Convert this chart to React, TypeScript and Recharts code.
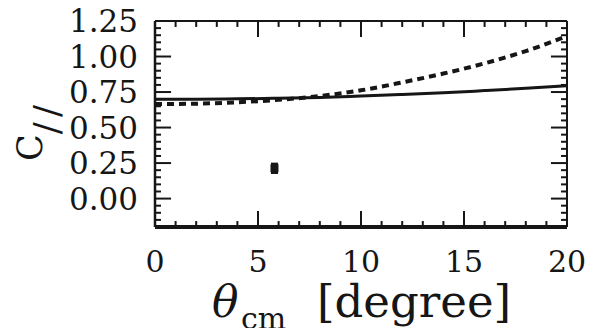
import React from 'react';
import { ComposedChart, Line, Scatter, XAxis, YAxis, ErrorBar, ReferenceLine } from 'recharts';

// Angle grid (degrees)
const thetaCm = [0, 2, 4, 6, 8, 10, 12, 14, 16, 18, 20];
// Solid curve
const solidC = [0.70, 0.70, 0.702, 0.706, 0.712, 0.722, 0.733, 0.745, 0.76, 0.776, 0.795];
// Dashed curve
const dashedC = [0.665, 0.668, 0.678, 0.695, 0.722, 0.762, 0.818, 0.88, 0.952, 1.038, 1.145];
// Measured point
const measTheta = [5.8];
const measC = [0.213];
const measErr = [0.04];

const xMajor = [0, 5, 10, 15, 20];
const xMinor = [1, 2, 3, 4, 6, 7, 8, 9, 11, 12, 13, 14, 16, 17, 18, 19];
const yMajor = [0, 0.25, 0.5, 0.75, 1.0, 1.25];
const yMinor = [-0.15, -0.1, -0.05, 0.05, 0.1, 0.15, 0.2, 0.3, 0.35, 0.4, 0.45, 0.55, 0.6, 0.65, 0.7, 0.8, 0.85, 0.9, 0.95, 1.05, 1.1, 1.15, 1.2];
const xDomain: [number, number] = [0, 20];
const yDomain: [number, number] = [-0.2, 1.25];

const curveData = thetaCm.map((t, i) => ({ t, solid: solidC[i], dashed: dashedC[i] }));
const pointData = measTheta.map((t, i) => ({ t, c: measC[i], err: measErr[i] }));

const INK = '#161616';
const FONT = '"DejaVu Serif", serif';
// inward tick lengths, in data units of each axis (minor ≈6 px, major ≈16 px)
const MINOR_X_LEN = 0.29;
const MINOR_Y_LEN = 0.042;
const MAJOR_X_LEN = 0.78;
const MAJOR_Y_LEN = 0.113;

const xTickList = [
  ...xMinor.map((v) => ({ v, len: MINOR_Y_LEN })),
  ...xMajor.slice(1, -1).map((v) => ({ v, len: MAJOR_Y_LEN })),
];
const yTickList = [
  ...yMinor.map((v) => ({ v, len: MINOR_X_LEN })),
  ...yMajor.slice(0, -1).map((v) => ({ v, len: MAJOR_X_LEN })),
];

const BottomLabel = (p: any) => (
  <text x={p.x} y={p.y + 45} textAnchor="middle" fontFamily={FONT} fontSize={30} fill={INK}>
    {p.payload.value}
  </text>
);
const LeftLabel = (p: any) => (
  <text x={p.x - 17} y={p.y + 11} textAnchor="end" fontFamily={FONT} fontSize={31} fill={INK}>
    {Number(p.payload.value).toFixed(2)}
  </text>
);
const blank = () => '';

const XTitle = () => (
  <g fontFamily={FONT} fill={INK}>
    <text x={212} y={317} fontSize={44} fontStyle="italic">θ</text>
    <text x={241} y={329} fontSize={30}>cm</text>
    <text x={317} y={317} fontSize={45}>[degree]</text>
  </g>
);
const YTitle = () => (
  <text x={42} y={161} transform="rotate(-90, 42, 161)" fontFamily={FONT} fill={INK} fontSize={35}>
    C
    <tspan dy={17} fontSize={36} letterSpacing={5}>//</tspan>
  </text>
);

const Square = (p: any) => (
  <rect x={p.cx - 4} y={p.cy - 4} width={8} height={8} fill={INK} />
);

const tickStyle = { stroke: INK, strokeWidth: 2, ifOverflow: 'visible' as const, xAxisId: 'b', yAxisId: 'l' };

export default function App() {
  return (
    <div style={{ position: 'absolute', left: 0, top: 0, background: '#fff' }}>
      <ComposedChart width={589} height={328} data={curveData} margin={{ top: 20, right: 21, left: 0, bottom: 0 }}>
        <XAxis xAxisId="b" dataKey="t" type="number" domain={xDomain} allowDataOverflow ticks={xMajor} interval={0}
          height={101} tickSize={0} tickMargin={0} tickLine={false} tick={<BottomLabel />}
          axisLine={{ stroke: INK, strokeWidth: 4 }} label={{ content: () => <XTitle /> }} />
        <XAxis xAxisId="t" orientation="top" type="number" domain={xDomain} allowDataOverflow ticks={xMajor} interval={0}
          height={1} tickSize={0} tickMargin={0} tickLine={false} tickFormatter={blank}
          axisLine={{ stroke: INK, strokeWidth: 2 }} />
        <YAxis yAxisId="l" type="number" domain={yDomain} allowDataOverflow ticks={yMajor} interval={0}
          width={155} tickSize={0} tickMargin={0} tickLine={false} tick={<LeftLabel />}
          axisLine={{ stroke: INK, strokeWidth: 2.5 }} label={{ content: () => <YTitle /> }} />
        <YAxis yAxisId="r" orientation="right" type="number" domain={yDomain} allowDataOverflow ticks={yMajor} interval={0}
          width={1} tickSize={0} tickMargin={0} tickLine={false} tickFormatter={blank}
          axisLine={{ stroke: INK, strokeWidth: 2 }} />

        {xTickList.map(({ v, len }, i) => (
          <ReferenceLine key={'xb' + i} {...tickStyle}
            segment={[{ x: v, y: yDomain[0] }, { x: v, y: yDomain[0] + len }]} />
        ))}
        {xTickList.map(({ v, len }, i) => (
          <ReferenceLine key={'xt' + i} {...tickStyle}
            segment={[{ x: v, y: yDomain[1] }, { x: v, y: yDomain[1] - len }]} />
        ))}
        {yTickList.map(({ v, len }, i) => (
          <ReferenceLine key={'yl' + i} {...tickStyle}
            segment={[{ x: xDomain[0], y: v }, { x: xDomain[0] + len, y: v }]} />
        ))}
        {yTickList.map(({ v, len }, i) => (
          <ReferenceLine key={'yr' + i} {...tickStyle}
            segment={[{ x: xDomain[1], y: v }, { x: xDomain[1] - len, y: v }]} />
        ))}

        <Line xAxisId="b" yAxisId="l" type="monotone" dataKey="solid" stroke={INK} strokeWidth={3} dot={false} isAnimationActive={false} />
        <Line xAxisId="b" yAxisId="l" type="monotone" dataKey="dashed" stroke={INK} strokeWidth={4} strokeDasharray="7 5" dot={false} isAnimationActive={false} />
        <Scatter xAxisId="b" yAxisId="l" data={pointData} dataKey="c" shape={<Square />} isAnimationActive={false}>
          <ErrorBar dataKey="err" direction="y" width={0} stroke={INK} strokeWidth={7} />
        </Scatter>
      </ComposedChart>
    </div>
  );
}
